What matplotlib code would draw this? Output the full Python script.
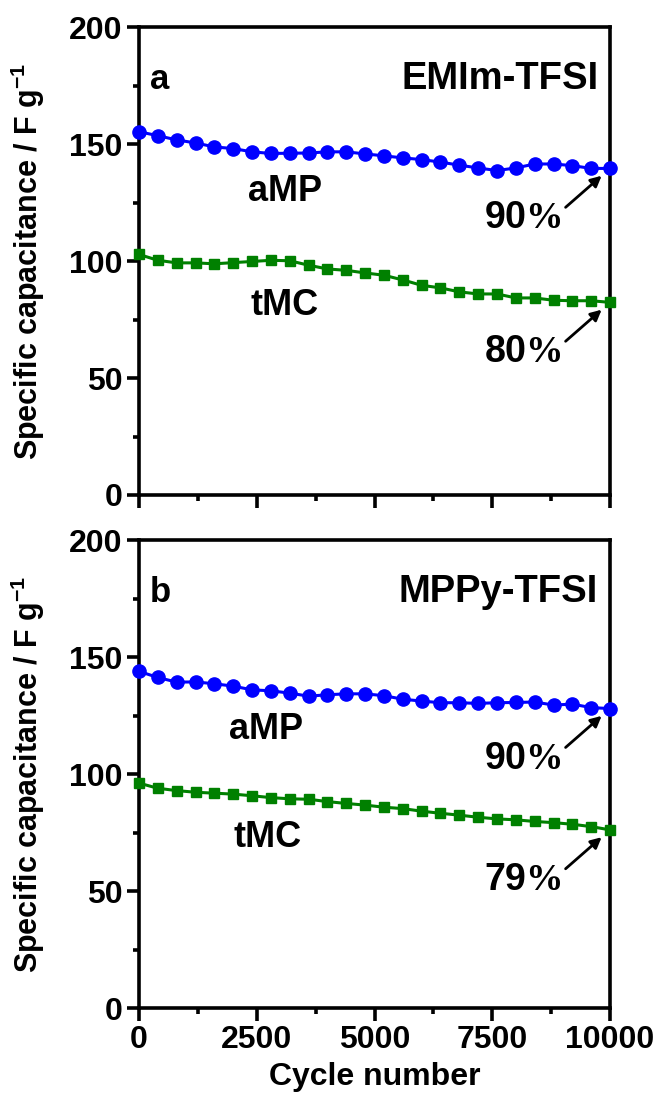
import matplotlib
matplotlib.use('Agg')
import matplotlib.pyplot as plt
from matplotlib.ticker import MultipleLocator

plt.rcParams['font.family'] = ['Liberation Sans', 'DejaVu Sans']
plt.rcParams['font.weight'] = 'bold'
plt.rcParams['mathtext.fontset'] = 'custom'
plt.rcParams['mathtext.rm'] = 'Liberation Serif'
plt.rcParams['mathtext.bf'] = 'Liberation Sans:bold'

# cycle numbers (every 400 cycles)
cycles = [0, 400, 800, 1200, 1600, 2000, 2400, 2800, 3200, 3600, 4000, 4400, 4800,
          5200, 5600, 6000, 6400, 6800, 7200, 7600, 8000, 8400, 8800, 9200, 9600, 10000]

# panel a: EMIm-TFSI
amp_a = [155.4, 153.7, 151.9, 150.6, 148.9, 148.2, 146.8, 146.1, 146.2, 146.3, 146.8, 146.8, 145.9,
         145.1, 144.2, 143.5, 142.4, 141.1, 139.9, 138.8, 139.9, 141.6, 141.6, 140.9, 139.7, 139.7]
tmc_a = [102.9, 100.4, 99.3, 99.3, 98.9, 99.4, 99.9, 100.4, 100.2, 98.3, 96.7, 96.1, 95.0,
         94.0, 92.0, 89.7, 88.6, 86.9, 86.0, 86.0, 84.3, 84.3, 83.3, 83.1, 83.1, 82.4]

# panel b: MPPy-TFSI
amp_b = [144.0, 141.4, 139.4, 139.5, 138.7, 137.7, 136.1, 135.7, 134.7, 133.4, 134.0, 134.4, 134.4,
         133.6, 132.1, 131.3, 130.6, 130.6, 130.3, 130.6, 130.7, 130.9, 129.6, 130.0, 128.5, 128.1]
tmc_b = [96.2, 94.0, 93.0, 92.3, 91.9, 91.5, 90.8, 90.0, 89.5, 89.3, 88.3, 87.5, 86.8,
         85.9, 85.3, 84.2, 83.3, 82.5, 81.6, 80.9, 80.5, 79.8, 79.3, 78.6, 77.6, 76.2]

panels = [
    {'letter': 'a', 'electrolyte': 'EMIm-TFSI', 'amp': amp_a, 'tmc': tmc_a,
     'amp_pct': '90', 'tmc_pct': '80', 'amp_pos': (3100, 130), 'tmc_pos': (3100, 81)},
    {'letter': 'b', 'electrolyte': 'MPPy-TFSI', 'amp': amp_b, 'tmc': tmc_b,
     'amp_pct': '90', 'tmc_pct': '79', 'amp_pos': (2700, 119), 'tmc_pos': (2720, 73)},
]

fig = plt.figure(figsize=(6.57, 10.99), dpi=100)
ax_a = fig.add_axes([0.2116, 0.5496, 0.7169, 0.4254])
ax_b = fig.add_axes([0.2116, 0.0828, 0.7169, 0.4254])

for ax, p in zip([ax_a, ax_b], panels):
    ax.plot(cycles, p['amp'], '-o', color='#0000ff', lw=2.2, ms=9.5, clip_on=False, zorder=5)
    ax.plot(cycles, p['tmc'], '-s', color='#008000', lw=2.2, ms=7.5, clip_on=False, zorder=5)

    ax.set_xlim(0, 10000)
    ax.set_ylim(0, 200)
    ax.xaxis.set_major_locator(MultipleLocator(2500))
    ax.xaxis.set_minor_locator(MultipleLocator(1250))
    ax.yaxis.set_major_locator(MultipleLocator(50))
    ax.yaxis.set_minor_locator(MultipleLocator(25))
    for s in ax.spines.values():
        s.set_linewidth(2.6)
    ax.tick_params(which='major', direction='out', length=9, width=2.6, labelsize=23, pad=3)
    ax.tick_params(which='minor', direction='out', length=4.5, width=2.6)
    for lbl in ax.get_xticklabels() + ax.get_yticklabels():
        lbl.set_fontweight('bold')

    ax.set_ylabel(r'Specific capacitance / F g$^{\mathbf{-1}}$', fontsize=22, fontweight='bold')
    ax.yaxis.set_label_coords(-0.195, 0.5)

    ax.text(0.023, 0.889, p['letter'], transform=ax.transAxes, fontsize=25,
            fontweight='bold', ha='left', va='center')
    ax.text(0.975, 0.889, p['electrolyte'], transform=ax.transAxes, fontsize=27.5,
            fontweight='bold', ha='right', va='center')
    ax.text(*p['amp_pos'], 'aMP', fontsize=26, fontweight='bold', ha='center', va='center')
    ax.text(*p['tmc_pos'], 'tMC', fontsize=26, fontweight='bold', ha='center', va='center')

    for series, pct in [(p['amp'], p['amp_pct']), (p['tmc'], p['tmc_pct'])]:
        end = (cycles[-1], series[-1])
        ax.annotate('', xy=end, xytext=(-32, -28), textcoords='offset points',
                    arrowprops=dict(arrowstyle='-|>', color='black', lw=2.0,
                                    mutation_scale=16, shrinkA=0, shrinkB=8))
        ax.annotate(pct + r'$\mathrm{\%}$', xy=end, xytext=(-63, -36), textcoords='offset points',
                    fontsize=27, fontweight='bold', ha='center', va='center')

ax_a.tick_params(axis='x', labelbottom=False)
ax_b.set_xlabel('Cycle number', fontsize=23, fontweight='bold')
ax_b.xaxis.set_label_coords(0.5, -0.115)

fig.savefig('out.png', dpi=100)
